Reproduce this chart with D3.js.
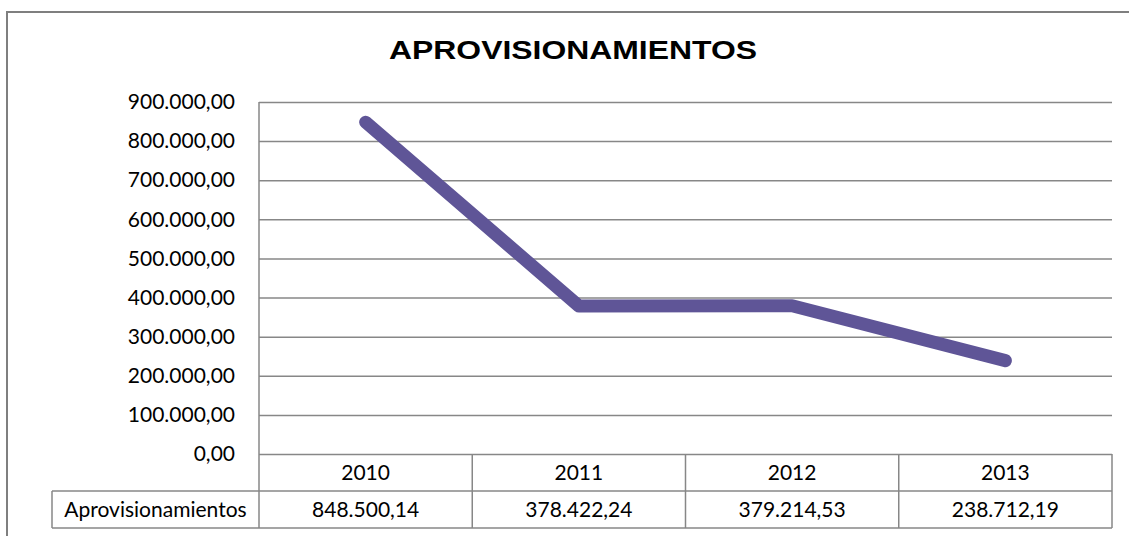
<!DOCTYPE html>
<html>
<head>
<meta charset="utf-8">
<script src="https://cdn.jsdelivr.net/npm/d3@7"></script>
<style>
  body { margin: 0; background: #fff; }
  svg { display: block; }
</style>
</head>
<body>
<svg id="chart" width="1129" height="536"></svg>
<script>
"use strict";

// data
const years = ["2010", "2011", "2012", "2013"];
const seriesName = "Aprovisionamientos";
const values = [848500.14, 378422.24, 379214.53, 238712.19];
const yTicks = [0, 100000, 200000, 300000, 400000, 500000, 600000, 700000, 800000, 900000];
const title = "APROVISIONAMIENTOS";

const svg = d3.select("#chart");

// spanish number format: 848.500,14
const es = d3.formatLocale({ decimal: ",", thousands: ".", grouping: [3], currency: ["", "€"] });
const fmt = es.format(",.2f");

const plotLeft = 259, plotRight = 1112, plotTop = 102, plotBottom = 454;
const headRow = 37, valRow = 37;
const legendLeft = 52;
const gridColor = "#878787";
const textFont = "Lato, 'Open Sans', sans-serif";
const textSize = 21;

const x = d3.scaleBand().domain(years).range([plotLeft, plotRight]);
const y = d3.scaleLinear().domain([0, 900000]).range([plotBottom, plotTop]);

// outer chart border (runs off the right and bottom of the picture)
svg.append("rect")
  .attr("x", 7).attr("y", 12)
  .attr("width", 1140).attr("height", 540)
  .attr("fill", "none")
  .attr("stroke", "#7f7f7f")
  .attr("stroke-width", 2);

// title
svg.append("text")
  .attr("x", 573).attr("y", 59)
  .attr("text-anchor", "middle")
  .attr("font-family", "'Liberation Sans', Arial, sans-serif")
  .attr("font-weight", "bold")
  .attr("font-size", 26)
  .attr("textLength", 368)
  .attr("lengthAdjust", "spacingAndGlyphs")
  .text(title);

// gridlines + y labels
const yAxis = d3.axisLeft(y)
  .tickValues(yTicks)
  .tickSize(-(plotRight - plotLeft))
  .tickPadding(24)
  .tickFormat(fmt);

const gy = svg.append("g")
  .attr("transform", `translate(${plotLeft},0)`)
  .call(yAxis);
gy.select(".domain").remove();
gy.selectAll(".tick line")
  .attr("stroke", gridColor)
  .attr("stroke-width", 1.5);
gy.selectAll(".tick text")
  .attr("font-family", textFont)
  .attr("font-size", textSize)
  .attr("fill", "#000");

// data table under the plot
const tbl = svg.append("g").attr("fill", "none").attr("stroke", gridColor).attr("stroke-width", 1.5);
// left axis line, down through the table
tbl.append("line")
  .attr("x1", plotLeft).attr("x2", plotLeft)
  .attr("y1", plotTop).attr("y2", plotBottom + headRow + valRow);
// row lines
tbl.append("line")
  .attr("x1", legendLeft).attr("x2", plotRight)
  .attr("y1", plotBottom + headRow).attr("y2", plotBottom + headRow);
tbl.append("line")
  .attr("x1", legendLeft).attr("x2", plotRight)
  .attr("y1", plotBottom + headRow + valRow).attr("y2", plotBottom + headRow + valRow);
tbl.append("line")
  .attr("x1", legendLeft).attr("x2", legendLeft)
  .attr("y1", plotBottom + headRow).attr("y2", plotBottom + headRow + valRow);
// column dividers
tbl.selectAll(".col")
  .data(years)
  .enter()
  .append("line")
  .attr("class", "col")
  .attr("x1", (d) => x(d) + x.bandwidth())
  .attr("x2", (d) => x(d) + x.bandwidth())
  .attr("y1", plotBottom)
  .attr("y2", plotBottom + headRow + valRow);

// year labels
svg.append("g")
  .selectAll("text")
  .data(years)
  .enter()
  .append("text")
  .attr("x", (d) => x(d) + x.bandwidth() / 2)
  .attr("y", plotBottom + headRow / 2)
  .attr("dy", "0.35em")
  .attr("text-anchor", "middle")
  .attr("font-family", textFont)
  .attr("font-size", textSize)
  .text((d) => d);

// values row
svg.append("g")
  .selectAll("text")
  .data(values)
  .enter()
  .append("text")
  .attr("x", (d, i) => x(years[i]) + x.bandwidth() / 2)
  .attr("y", plotBottom + headRow + valRow / 2)
  .attr("dy", "0.35em")
  .attr("text-anchor", "middle")
  .attr("font-family", textFont)
  .attr("font-size", textSize)
  .text((d) => fmt(d));

svg.append("text")
  .attr("x", (legendLeft + plotLeft) / 2)
  .attr("y", plotBottom + headRow + valRow / 2)
  .attr("dy", "0.35em")
  .attr("text-anchor", "middle")
  .attr("font-family", textFont)
  .attr("font-size", textSize)
  .text(seriesName);

// the series line
const line = d3.line()
  .x((d, i) => x(years[i]) + x.bandwidth() / 2)
  .y((d) => y(d));

svg.append("path")
  .datum(values)
  .attr("d", line)
  .attr("fill", "none")
  .attr("stroke", "#5f5597")
  .attr("stroke-width", 13)
  .attr("stroke-linecap", "round")
  .attr("stroke-linejoin", "round");
</script>
</body>
</html>
